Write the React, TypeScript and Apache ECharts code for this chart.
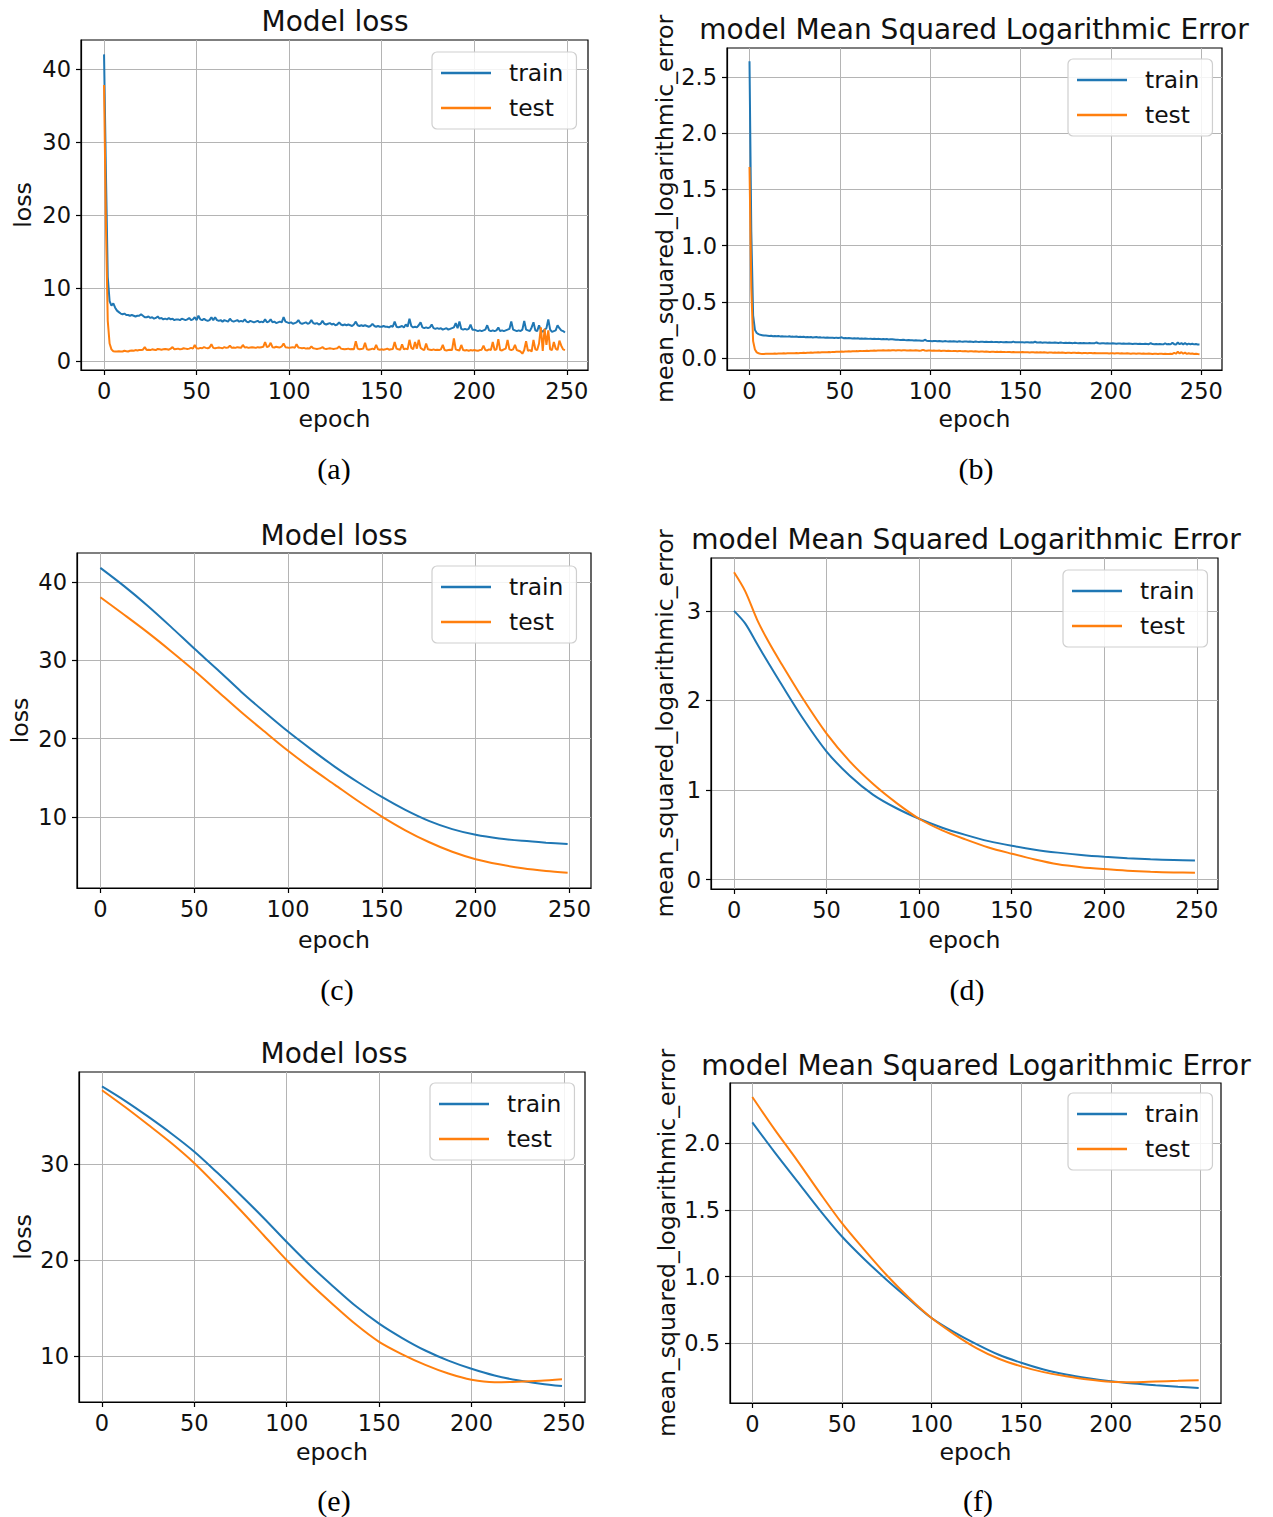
import React, { useEffect, useRef } from "react";
import * as echarts from "echarts";

// ---------- data ----------
const epochTicks = [0, 50, 100, 150, 200, 250];

// (a) Model loss – noisy, one value per epoch 0..249
const lossTrainA = [
  42.0, 26.0, 11.5, 8.2, 7.6, 7.9, 7.3, 6.9, 6.7, 6.5,
  6.4, 6.5, 6.3, 6.3, 6.2, 6.3, 6.2, 6.1, 6.2, 6.2,
  6.4, 6.2, 6.0, 6.0, 6.1, 5.9, 6.0, 5.8, 5.9, 6.1,
  5.8, 5.9, 5.7, 5.8, 5.7, 5.9, 5.7, 5.8, 5.6, 5.7,
  5.7, 5.6, 5.8, 5.7, 5.6, 5.7, 5.9, 5.6, 5.7, 6.0,
  5.6, 6.2, 5.7, 5.6, 5.8, 5.6, 5.5, 5.6, 6.0, 5.6,
  6.0, 5.6, 5.5, 5.6, 5.4, 5.6, 5.5, 5.4, 5.8, 5.5,
  5.4, 5.5, 5.6, 5.4, 5.5, 5.4, 5.7, 5.4, 5.3, 5.5,
  5.4, 5.3, 5.4, 5.5, 5.3, 5.4, 5.3, 5.7, 5.3, 5.4,
  5.7, 5.3, 5.4, 5.2, 5.3, 5.4, 5.3, 6.0, 5.4, 5.3,
  5.2, 5.3, 5.1, 5.2, 5.3, 5.6, 5.2, 5.1, 5.2, 5.3,
  5.1, 5.2, 5.6, 5.2, 5.1, 5.2, 5.0, 5.1, 5.5, 5.1,
  5.0, 5.1, 5.2, 5.0, 5.1, 4.9, 5.0, 5.3, 5.0, 4.9,
  5.0, 4.9, 5.0, 4.9, 4.8, 5.0, 5.4, 4.9, 4.8, 4.9,
  4.8, 4.9, 4.8, 4.7, 4.8, 5.1, 4.8, 4.7, 4.8, 4.7,
  4.7, 4.8, 4.7, 4.7, 4.6, 4.8, 4.7, 5.4, 4.7, 4.6,
  4.7, 4.8, 4.6, 5.0, 4.7, 5.8, 4.8, 4.6, 4.7, 4.6,
  4.9, 5.3, 4.6, 4.5, 4.6, 4.5, 4.6, 5.0, 4.5, 4.4,
  4.5, 4.4, 4.5, 4.3, 4.4, 4.5, 4.3, 4.4, 4.5, 4.6,
  5.2, 4.5, 5.4, 4.4, 4.3, 4.4, 4.3, 4.4, 5.0, 4.3,
  4.3, 4.2, 4.1, 4.2, 4.1, 4.2, 4.3, 4.9, 4.2, 4.1,
  4.2, 4.1, 4.2, 4.6, 4.1, 4.2, 4.1, 4.2, 4.3, 4.4,
  5.4, 4.3, 4.2, 4.1, 4.2, 4.1, 4.3, 5.5, 4.3, 4.2,
  4.1, 4.6, 5.3, 4.2, 4.1, 4.9, 4.2, 4.0, 4.3, 4.5,
  5.7, 4.3, 4.0, 4.1, 4.2, 4.9, 4.5, 4.2, 4.1, 3.9,
];
const lossTestA = [
  37.8, 19.0, 5.5, 2.4, 1.6, 1.35, 1.3, 1.3, 1.35, 1.3,
  1.3, 1.4, 1.35, 1.3, 1.4, 1.45, 1.4, 1.5, 1.45, 1.5,
  1.5, 1.55, 1.9, 1.5, 1.55, 1.5, 1.6, 1.55, 1.5, 1.65,
  1.6, 1.55, 1.6, 1.65, 1.6, 1.55, 1.7, 1.9, 1.6, 1.65,
  1.7, 1.6, 1.65, 1.75, 1.7, 1.65, 1.7, 1.8, 1.7, 2.2,
  1.75, 1.7, 1.8, 1.75, 1.9, 1.8, 1.75, 1.85, 2.3, 1.8,
  1.75, 1.8, 1.85, 1.8, 1.75, 1.9, 1.8, 1.85, 2.1, 1.8,
  1.85, 1.8, 1.9, 1.85, 1.8, 2.2, 1.85, 1.9, 1.8, 1.85,
  1.9, 1.85, 1.8, 1.9, 1.85, 1.9, 1.95, 2.6, 1.9, 2.0,
  2.5, 1.9, 1.85, 1.95, 1.9, 1.85, 2.0, 2.4, 1.9, 1.85,
  1.8, 1.85, 1.9, 1.8, 2.3, 1.85, 1.8, 1.75, 1.8, 1.7,
  1.75, 1.7, 2.0, 1.75, 1.7, 1.65, 1.7, 1.75, 1.9, 1.7,
  1.65, 1.7, 1.75, 1.7, 1.65, 1.7, 1.75, 2.0, 1.7, 1.65,
  1.6, 1.65, 1.7, 1.6, 1.65, 1.6, 2.7, 1.7, 1.6, 1.65,
  1.7, 2.5, 1.6, 1.55, 1.6, 1.7, 1.6, 2.2, 1.6, 1.55,
  1.6, 1.55, 1.6, 1.7, 1.55, 1.6, 1.65, 2.6, 1.7, 1.6,
  1.55, 2.3, 1.6, 1.7, 1.6, 2.9, 1.8, 1.6, 2.6, 1.7,
  2.9, 1.8, 1.6, 1.5, 2.4, 1.6, 1.55, 1.5, 1.6, 1.5,
  1.55, 1.5, 1.6, 2.2, 1.5, 1.45, 1.5, 1.55, 1.5, 3.1,
  1.6, 1.5, 1.45, 2.2, 1.5, 1.45, 1.5, 1.4, 1.5, 1.45,
  1.5, 1.45, 1.4, 1.5, 1.55, 2.1, 1.5, 1.45, 1.6, 1.5,
  2.6, 1.5, 1.6, 3.0, 1.5, 1.45, 1.6, 1.7, 2.9, 1.6,
  1.5, 1.6, 2.2, 1.5, 1.4, 1.3, 1.0, 1.5, 2.7, 1.4,
  1.5, 1.3, 2.9, 1.6, 1.5, 2.4, 4.6, 1.4, 4.4, 2.2,
  4.2, 1.6, 1.5, 2.6, 1.7, 1.5, 2.8, 2.1, 1.6, 1.5,
];

// (b) MSLE – noisy, one value per epoch 0..249
const msleTrainB = [
  2.64, 1.12, 0.38, 0.25, 0.222, 0.212, 0.206, 0.203, 0.2, 0.199,
  0.198, 0.196, 0.197, 0.194, 0.195, 0.193, 0.196, 0.192, 0.193, 0.191,
  0.192, 0.19, 0.193, 0.189, 0.19, 0.188, 0.191, 0.187, 0.188, 0.186,
  0.189, 0.185, 0.187, 0.184, 0.186, 0.183, 0.185, 0.186, 0.182, 0.184,
  0.181, 0.183, 0.18, 0.182, 0.179, 0.181, 0.18, 0.178, 0.181, 0.177,
  0.179, 0.184, 0.176, 0.178, 0.175, 0.177, 0.176, 0.174, 0.176, 0.173,
  0.175, 0.172, 0.174, 0.171, 0.173, 0.172, 0.17, 0.172, 0.169, 0.171,
  0.168, 0.17, 0.169, 0.167, 0.169, 0.166, 0.168, 0.165, 0.167, 0.166,
  0.164, 0.162, 0.163, 0.161, 0.16, 0.162, 0.159, 0.158, 0.16, 0.157,
  0.158, 0.156, 0.157, 0.155, 0.156, 0.154, 0.153, 0.162, 0.154, 0.152,
  0.152, 0.149, 0.151, 0.15, 0.148, 0.151, 0.149, 0.147, 0.15, 0.148,
  0.147, 0.149, 0.146, 0.148, 0.147, 0.145, 0.148, 0.146, 0.145, 0.147,
  0.146, 0.144, 0.147, 0.145, 0.143, 0.146, 0.144, 0.143, 0.145, 0.144,
  0.142, 0.145, 0.143, 0.142, 0.144, 0.141, 0.143, 0.142, 0.14, 0.143,
  0.141, 0.14, 0.142, 0.139, 0.141, 0.14, 0.146, 0.139, 0.141, 0.14,
  0.139, 0.141, 0.138, 0.14, 0.139, 0.137, 0.14, 0.138, 0.144, 0.138,
  0.137, 0.139, 0.136, 0.138, 0.137, 0.135, 0.138, 0.136, 0.135, 0.137,
  0.136, 0.134, 0.137, 0.135, 0.134, 0.136, 0.133, 0.135, 0.134, 0.132,
  0.135, 0.133, 0.132, 0.134, 0.131, 0.133, 0.132, 0.13, 0.133, 0.131,
  0.13, 0.132, 0.138, 0.131, 0.129, 0.131, 0.13, 0.128, 0.131, 0.129,
  0.128, 0.13, 0.129, 0.127, 0.129, 0.128, 0.126, 0.129, 0.127, 0.126,
  0.128, 0.127, 0.125, 0.127, 0.126, 0.124, 0.127, 0.125, 0.124, 0.126,
  0.125, 0.123, 0.133, 0.124, 0.123, 0.125, 0.122, 0.124, 0.123, 0.121,
  0.131, 0.122, 0.124, 0.121, 0.136, 0.123, 0.12, 0.138, 0.122, 0.132,
  0.121, 0.134, 0.12, 0.128, 0.122, 0.126, 0.121, 0.124, 0.12, 0.119,
];
const msleTestB = [
  1.70, 0.62, 0.15, 0.075, 0.05, 0.042, 0.038, 0.036, 0.036, 0.037,
  0.037, 0.038, 0.037, 0.038, 0.039, 0.038, 0.039, 0.04, 0.039, 0.041,
  0.04, 0.041, 0.042, 0.041, 0.043, 0.042, 0.044, 0.043, 0.045, 0.044,
  0.046, 0.045, 0.047, 0.046, 0.048, 0.047, 0.049, 0.048, 0.05, 0.049,
  0.051, 0.05, 0.052, 0.051, 0.053, 0.052, 0.054, 0.053, 0.055, 0.056,
  0.055, 0.057, 0.056, 0.058, 0.057, 0.059, 0.058, 0.06, 0.059, 0.061,
  0.06, 0.062, 0.061, 0.063, 0.062, 0.064, 0.063, 0.065, 0.064, 0.066,
  0.065, 0.066, 0.067, 0.066, 0.068, 0.067, 0.066, 0.068, 0.067, 0.069,
  0.068, 0.067, 0.069, 0.068, 0.067, 0.069, 0.068, 0.067, 0.066, 0.068,
  0.067, 0.066, 0.068, 0.067, 0.065, 0.067, 0.072, 0.066, 0.065, 0.067,
  0.066, 0.064, 0.066, 0.065, 0.064, 0.066, 0.063, 0.065, 0.064, 0.062,
  0.064, 0.063, 0.061, 0.063, 0.062, 0.06, 0.062, 0.061, 0.059, 0.061,
  0.06, 0.058, 0.06, 0.059, 0.057, 0.059, 0.058, 0.056, 0.058, 0.057,
  0.055, 0.057, 0.056, 0.054, 0.056, 0.055, 0.053, 0.055, 0.054, 0.056,
  0.053, 0.054, 0.052, 0.054, 0.053, 0.051, 0.053, 0.052, 0.05, 0.052,
  0.051, 0.053, 0.05, 0.052, 0.051, 0.049, 0.051, 0.05, 0.048, 0.05,
  0.049, 0.051, 0.048, 0.05, 0.049, 0.047, 0.049, 0.048, 0.046, 0.048,
  0.047, 0.049, 0.046, 0.048, 0.047, 0.045, 0.047, 0.046, 0.045, 0.047,
  0.046, 0.044, 0.046, 0.045, 0.043, 0.045, 0.044, 0.043, 0.045, 0.044,
  0.042, 0.044, 0.043, 0.041, 0.043, 0.042, 0.041, 0.043, 0.042, 0.04,
  0.042, 0.041, 0.04, 0.042, 0.041, 0.039, 0.041, 0.04, 0.039, 0.041,
  0.04, 0.038, 0.04, 0.039, 0.038, 0.04, 0.039, 0.037, 0.039, 0.038,
  0.037, 0.039, 0.038, 0.036, 0.038, 0.037, 0.036, 0.038, 0.037, 0.035,
  0.037, 0.036, 0.035, 0.037, 0.036, 0.045, 0.038, 0.055, 0.04, 0.052,
  0.038, 0.048, 0.036, 0.042, 0.037, 0.04, 0.036, 0.038, 0.035, 0.034,
];

// (c)-(f) smooth curves at these epochs
const readEpochs = [0, 12.5, 25, 37.5, 50, 62.5, 75, 87.5, 100, 112.5, 125, 137.5, 150, 162.5, 175, 187.5, 200, 212.5, 225, 237.5, 249];

const lossTrainC = [41.8, 39.5, 37.0, 34.3, 31.5, 28.8, 26.0, 23.4, 20.9, 18.6, 16.4, 14.4, 12.55, 10.9, 9.5, 8.45, 7.72, 7.25, 6.95, 6.72, 6.54];
const lossTestC = [38.05, 35.85, 33.6, 31.2, 28.7, 26.05, 23.4, 20.9, 18.45, 16.2, 14.1, 12.0, 10.05, 8.3, 6.8, 5.55, 4.6, 3.95, 3.45, 3.1, 2.87];

const epochsD = [0, 6, 12.5, 18.5, 25, 37.5, 50, 62.5, 75, 87.5, 100, 112.5, 125, 137.5, 150, 162.5, 175, 187.5, 200, 212.5, 225, 237.5, 249];
const msleTrainD = [3.0, 2.86, 2.63, 2.42, 2.2, 1.79, 1.43, 1.16, 0.95, 0.8, 0.68, 0.58, 0.5, 0.43, 0.378, 0.335, 0.302, 0.275, 0.255, 0.24, 0.228, 0.22, 0.213];
const msleTestD = [3.43, 3.22, 2.9, 2.66, 2.43, 2.01, 1.63, 1.32, 1.07, 0.86, 0.68, 0.55, 0.45, 0.36, 0.29, 0.225, 0.172, 0.14, 0.118, 0.1, 0.088, 0.081, 0.078];

const lossTrainE = [38.1, 36.6, 34.95, 33.2, 31.3, 29.1, 26.8, 24.4, 21.9, 19.5, 17.3, 15.2, 13.4, 11.9, 10.6, 9.55, 8.7, 8.0, 7.5, 7.15, 6.9];
const lossTestE = [37.7, 35.95, 34.1, 32.2, 30.1, 27.7, 25.2, 22.6, 20.0, 17.6, 15.4, 13.3, 11.5, 10.2, 9.1, 8.2, 7.55, 7.3, 7.35, 7.45, 7.6];

const msleTrainF = [2.155, 1.93, 1.715, 1.5, 1.3, 1.13, 0.975, 0.83, 0.69, 0.585, 0.495, 0.415, 0.355, 0.305, 0.268, 0.24, 0.217, 0.2, 0.187, 0.176, 0.167];
const msleTestF = [2.344, 2.1, 1.87, 1.63, 1.4, 1.2, 1.01, 0.84, 0.69, 0.57, 0.465, 0.385, 0.328, 0.285, 0.255, 0.23, 0.213, 0.21, 0.215, 0.22, 0.225];

// tick labels
const yTicksA = [0, 10, 20, 30, 40];
const yTicksB = [0, 0.5, 1.0, 1.5, 2.0, 2.5];
const yTicksC = [10, 20, 30, 40];
const yTicksD = [0, 1, 2, 3];
const yTicksE = [10, 20, 30];
const yTicksF = [0.5, 1.0, 1.5, 2.0];

const titleLoss = "Model loss";
const titleMsle = "model Mean Squared Logarithmic Error";
const yNameLoss = "loss";
const yNameMsle = "mean_squared_logarithmic_error";
const xName = "epoch";
const seriesNames = ["train", "test"];
const captions = ["(a)", "(b)", "(c)", "(d)", "(e)", "(f)"];

// ---------- layout / style ----------
const BLUE = "#1f77b4";
const ORANGE = "#ff7f0e";
const FONT = "DejaVu Sans";
const TXT = "#111";

const byEpoch = (arr: number[]) => arr.map((v, i) => [i, v]);
const zipX = (xs: number[], ys: number[]) => ys.map((v, i) => [xs[i], v]);

type Panel = {
  grid: { left: number; top: number; width: number; height: number };
  yMin: number; yMax: number; yTicks: number[]; decimals: number;
  title: string; titleX: number; titleY: number;
  yName: string; yNameGap: number; xNameGap: number;
  legend: { left: number; top: number };
  caption: { x: number; y: number };
  train: number[][]; test: number[][]; smooth: boolean;
};

const panels: Panel[] = [
  {
    grid: { left: 81, top: 40, width: 507, height: 330 },
    yMin: -1.23, yMax: 43.97, yTicks: yTicksA, decimals: 0,
    title: titleLoss, titleX: 335, titleY: 21,
    yName: yNameLoss, yNameGap: 47, xNameGap: 37,
    legend: { left: 432, top: 52 }, caption: { x: 334, y: 468 },
    train: byEpoch(lossTrainA), test: byEpoch(lossTestA), smooth: false,
  },
  {
    grid: { left: 727, top: 48, width: 495, height: 322 },
    yMin: -0.107, yMax: 2.758, yTicks: yTicksB, decimals: 1,
    title: titleMsle, titleX: 974, titleY: 29,
    yName: yNameMsle, yNameGap: 51, xNameGap: 37,
    legend: { left: 1068, top: 59 }, caption: { x: 976, y: 468 },
    train: byEpoch(msleTrainB), test: byEpoch(msleTestB), smooth: false,
  },
  {
    grid: { left: 77, top: 553, width: 514, height: 335 },
    yMin: 0.93, yMax: 43.7, yTicks: yTicksC, decimals: 0,
    title: titleLoss, titleX: 334, titleY: 535,
    yName: yNameLoss, yNameGap: 46, xNameGap: 40,
    legend: { left: 432, top: 566 }, caption: { x: 337, y: 989 },
    train: zipX(readEpochs, lossTrainC), test: zipX(readEpochs, lossTestC), smooth: true,
  },
  {
    grid: { left: 711, top: 558, width: 507, height: 331 },
    yMin: -0.104, yMax: 3.59, yTicks: yTicksD, decimals: 0,
    title: titleMsle, titleX: 966, titleY: 539,
    yName: yNameMsle, yNameGap: 35, xNameGap: 39,
    legend: { left: 1063, top: 570 }, caption: { x: 967, y: 989 },
    train: zipX(epochsD, msleTrainD), test: zipX(epochsD, msleTestD), smooth: true,
  },
  {
    grid: { left: 79, top: 1072, width: 506, height: 330 },
    yMin: 5.24, yMax: 39.6, yTicks: yTicksE, decimals: 0,
    title: titleLoss, titleX: 334, titleY: 1053,
    yName: yNameLoss, yNameGap: 45, xNameGap: 38,
    legend: { left: 430, top: 1083 }, caption: { x: 334, y: 1500 },
    train: zipX(readEpochs, lossTrainE), test: zipX(readEpochs, lossTestE), smooth: true,
  },
  {
    grid: { left: 730, top: 1083, width: 491, height: 320 },
    yMin: 0.054, yMax: 2.449, yTicks: yTicksF, decimals: 1,
    title: titleMsle, titleX: 976, titleY: 1065,
    yName: yNameMsle, yNameGap: 52, xNameGap: 37,
    legend: { left: 1068, top: 1093 }, caption: { x: 978, y: 1500 },
    train: zipX(readEpochs, msleTrainF), test: zipX(readEpochs, msleTestF), smooth: true,
  },
];

function buildOption() {
  const grids: any[] = [];
  const xAxes: any[] = [];
  const yAxes: any[] = [];
  const series: any[] = [];
  const titles: any[] = [];
  const legends: any[] = [];

  panels.forEach((p, i) => {
    grids.push({
      ...p.grid,
      show: true,
      borderColor: "#000",
      borderWidth: 1.2,
      backgroundColor: "#fff",
      containLabel: false,
    });
    xAxes.push({
      type: "value",
      gridIndex: i,
      min: -12.45,
      max: 261.45,
      axisLine: { show: true, onZero: false, lineStyle: { color: "#000", width: 1.2 } },
      axisTick: { show: true, inside: false, length: 5, customValues: epochTicks, lineStyle: { color: "#000", width: 1.2 } },
      axisLabel: {
        customValues: epochTicks, margin: 9, fontSize: 22.5, lineHeight: 23,
        color: TXT, fontFamily: FONT,
      },
      splitLine: { show: true, lineStyle: { color: "#b4b4b4", width: 1 } },
      name: xName,
      nameLocation: "middle",
      nameGap: p.xNameGap,
      nameTextStyle: { fontSize: 23.6, lineHeight: 23, color: TXT, fontFamily: FONT },
    });
    yAxes.push({
      type: "value",
      gridIndex: i,
      min: p.yMin,
      max: p.yMax,
      axisLine: { show: true, onZero: false, lineStyle: { color: "#000", width: 1.2 } },
      axisTick: { show: true, inside: false, length: 5, customValues: p.yTicks, lineStyle: { color: "#000", width: 1.2 } },
      axisLabel: {
        customValues: p.yTicks, margin: 10, fontSize: 22.5, lineHeight: 23,
        color: TXT, fontFamily: FONT,
        formatter: (v: number) => v.toFixed(p.decimals),
      },
      splitLine: { show: true, lineStyle: { color: "#b4b4b4", width: 1 } },
      name: p.yName,
      nameLocation: "middle",
      nameGap: p.yNameGap,
      nameTextStyle: { fontSize: 23.6, lineHeight: 23, color: TXT, fontFamily: FONT },
    });
    [p.train, p.test].forEach((data, k) => {
      const color = k === 0 ? BLUE : ORANGE;
      series.push({
        type: "line",
        name: seriesNames[k],
        xAxisIndex: i,
        yAxisIndex: i,
        data,
        showSymbol: false,
        symbol: "none",
        smooth: p.smooth ? 0.3 : false,
        lineStyle: { color, width: 2 },
        itemStyle: { color },
        z: 3 + k,
      });
    });
    titles.push({
      text: p.title,
      left: p.titleX,
      top: p.titleY - 14,
      textAlign: "center",
      padding: 0,
      textStyle: { fontSize: 28, lineHeight: 28, fontWeight: "normal", color: TXT, fontFamily: FONT },
    });
    titles.push({
      text: captions[i],
      left: p.caption.x,
      top: p.caption.y - 15,
      textAlign: "center",
      padding: 0,
      textStyle: { fontSize: 30, lineHeight: 30, fontWeight: "normal", color: "#000", fontFamily: "Liberation Serif" },
    });
    legends.push({
      data: seriesNames,
      orient: "vertical",
      left: p.legend.left,
      top: p.legend.top,
      padding: [8, 13, 8, 9],
      itemGap: 9,
      itemWidth: 50,
      itemHeight: 2.6,
      icon: "rect",
      backgroundColor: "rgba(255,255,255,0.85)",
      borderColor: "#cfcfcf",
      borderWidth: 1.2,
      borderRadius: 5,
      selectedMode: false,
      textStyle: { fontSize: 23.4, lineHeight: 26, color: TXT, fontFamily: FONT, padding: [0, 0, 0, 13] },
    });
  });

  return {
    animation: false,
    backgroundColor: "#fff",
    title: titles,
    legend: legends,
    grid: grids,
    xAxis: xAxes,
    yAxis: yAxes,
    series,
  };
}

export default function App() {
  const ref = useRef<HTMLDivElement>(null);
  useEffect(() => {
    if (!ref.current) return;
    const chart = echarts.init(ref.current, undefined, { renderer: "svg" });
    chart.setOption(buildOption() as any);
    return () => chart.dispose();
  }, []);
  return (
    <div
      ref={ref}
      style={{ position: "absolute", left: 0, top: 0, width: 1273, height: 1517, background: "#fff" }}
    />
  );
}
